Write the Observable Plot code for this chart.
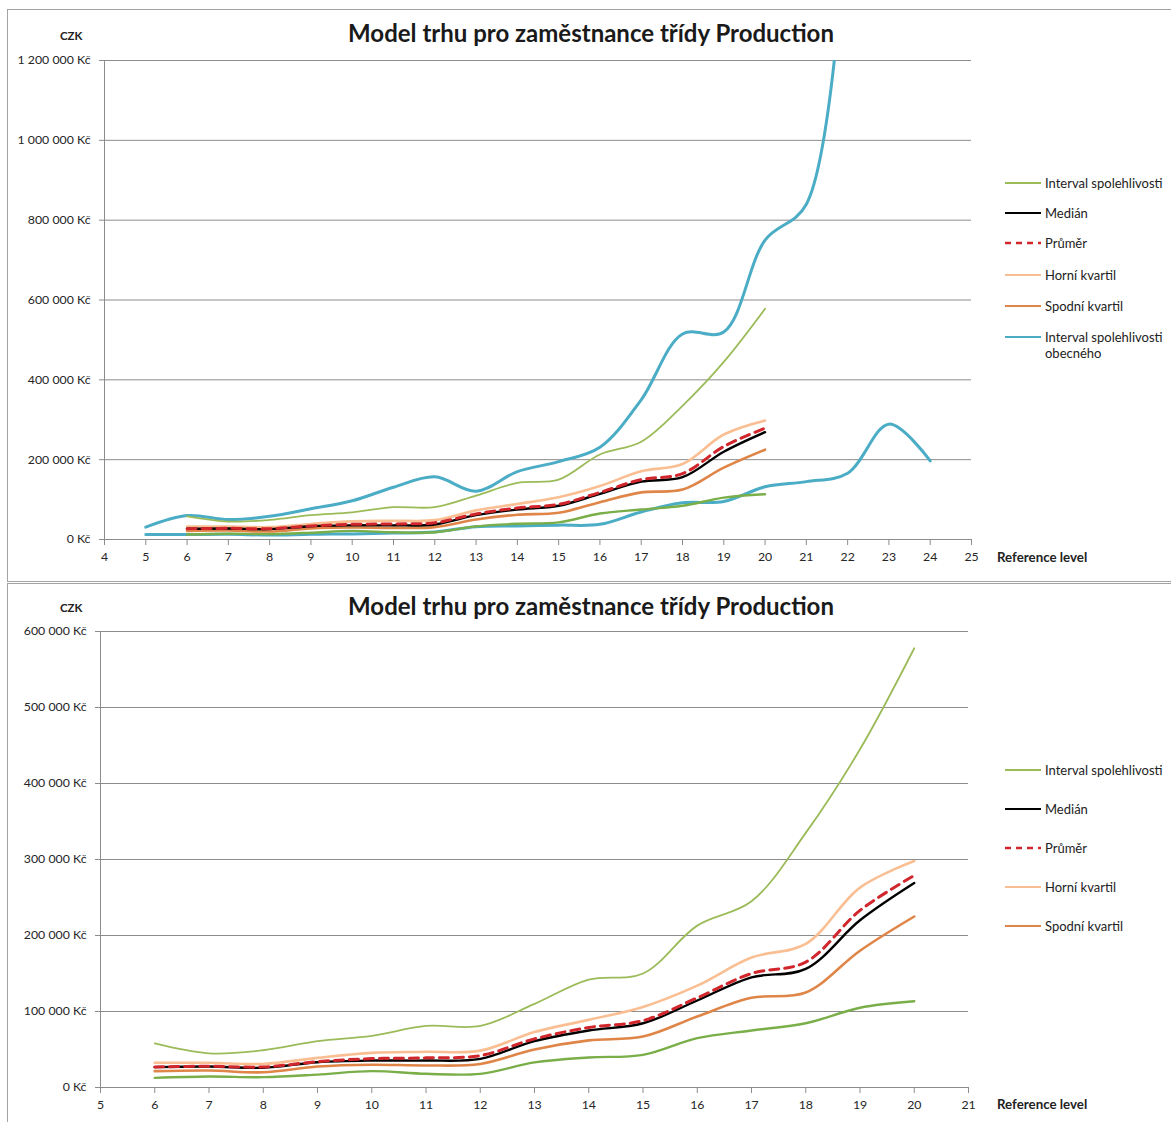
<!DOCTYPE html>
<html>
<head>
<meta charset="utf-8">
<script src="https://cdn.jsdelivr.net/npm/d3@7"></script>
<script src="https://cdn.jsdelivr.net/npm/@observablehq/plot@0.6"></script>
<style>
  html, body { margin: 0; padding: 0; background: #fff; }
  #page { position: relative; width: 1171px; height: 1122px; overflow: hidden; background: #fff;
          font-family: Lato, "Open Sans", sans-serif; color: #222; }
  .frame { position: absolute; border: 1px solid #a3a3a3; box-sizing: border-box; pointer-events: none; z-index: 5; }
  .chart { position: absolute; left: 0; }
  .title { position: absolute; left: 591px; transform: translateX(-50%); font-weight: 700; font-size: 24px;
           white-space: nowrap; color: #1a1a1a; line-height: 26px; }
  .unit { position: absolute; left: 60px; font-weight: 700; font-size: 11.5px; line-height: 13px; color: #222; }
  .xlabel { position: absolute; left: 997px; font-weight: 700; font-size: 13.3px; line-height: 15px; color: #222; white-space: nowrap; }
  .legend { position: absolute; left: 1005px; font-size: 13px; line-height: 16px; color: #222; }
  .legend .item { position: absolute; left: 0; display: flex; align-items: flex-start; white-space: nowrap; }
  .legend svg { flex: none; margin-right: 4px; margin-top: 1px; }
  .chart svg [aria-label*="axis"] line,
  .chart svg [aria-label*="axis"] path { stroke: #8c8c8c; }
</style>
</head>
<body>
<div id="page"></div>
<script>
// Reference levels for the Production class series
const levels = [6, 7, 8, 9, 10, 11, 12, 13, 14, 15, 16, 17, 18, 19, 20];
// Confidence interval (upper bound)
const ciUpper = [58000, 45000, 49000, 61000, 68000, 81000, 81000, 110000, 142000, 150000, 213000, 245000, 335000, 445000, 578000];
// Confidence interval (lower bound)
const ciLower = [12700, 14500, 13600, 17000, 21500, 18000, 18000, 33000, 39500, 43000, 65000, 75000, 84500, 105000, 113500];
const median = [26800, 27600, 26000, 33300, 35500, 35500, 37700, 61000, 75000, 84500, 114500, 145000, 156000, 220000, 269000];
const mean = [27000, 28000, 27000, 34000, 38000, 39000, 42000, 64000, 79000, 88000, 118000, 150000, 165000, 233000, 279000];
const upperQuartile = [32500, 32500, 31000, 39000, 45500, 47000, 48500, 73000, 89000, 106000, 134000, 171000, 189000, 263000, 298000];
const lowerQuartile = [21500, 22400, 20000, 27600, 30000, 29000, 31000, 50000, 62000, 67000, 93400, 118000, 125000, 180000, 225000];

// General confidence interval (all classes)
const generalUpperLevels = [5, 6, 7, 8, 9, 10, 11, 12, 13, 14, 15, 16, 17, 18, 19, 20, 21, 22];
const generalUpper = [31000, 60000, 50000, 58000, 77000, 97000, 131000, 157000, 121000, 170000, 195000, 231000, 350000, 515000, 520000, 750000, 840000, 1600000];
const generalLowerLevels = [5, 6, 7, 8, 9, 10, 11, 12, 13, 14, 15, 16, 17, 18, 19, 20, 21, 22, 23, 24];
const generalLower = [12500, 12500, 13000, 11000, 13000, 14000, 16000, 19000, 32000, 34000, 36000, 38000, 69000, 92000, 95000, 132000, 145000, 166000, 289000, 197000];

const titleText = "Model trhu pro zaměstnance třídy Production";
const unitText = "CZK";
const xAxisText = "Reference level";

const czk = d3.formatLocale({decimal: ",", thousands: "\u00a0", grouping: [3], currency: ["", "\u00a0Kč"]}).format("$,.0f");

const colors = {
  ci: "#9bbb59",
  ciLow: "#7aae48",
  median: "#000000",
  mean: "#d0262c",
  upperQ: "#f9bf93",
  lowerQ: "#df8548",
  general: "#4bacc6"
};

const pts = (xs, ys) => xs.map((x, i) => ({x, y: ys[i]}));

function seriesMarks(withGeneral) {
  const marks = [];
  if (withGeneral) {
    marks.push(Plot.line(pts(generalUpperLevels, generalUpper), {x: "x", y: "y", stroke: colors.general, strokeWidth: 3, curve: "catmull-rom", clip: true}));
    marks.push(Plot.line(pts(generalLowerLevels, generalLower), {x: "x", y: "y", stroke: colors.general, strokeWidth: 3, curve: "catmull-rom", clip: true}));
  }
  marks.push(
    Plot.line(pts(levels, ciUpper), {x: "x", y: "y", stroke: colors.ci, strokeWidth: 1.8, curve: "catmull-rom"}),
    Plot.line(pts(levels, ciLower), {x: "x", y: "y", stroke: colors.ciLow, strokeWidth: 2.4, curve: "catmull-rom"}),
    Plot.line(pts(levels, upperQuartile), {x: "x", y: "y", stroke: colors.upperQ, strokeWidth: 2.6, curve: "catmull-rom"}),
    Plot.line(pts(levels, lowerQuartile), {x: "x", y: "y", stroke: colors.lowerQ, strokeWidth: 2.6, curve: "catmull-rom"}),
    Plot.line(pts(levels, median), {x: "x", y: "y", stroke: colors.median, strokeWidth: 2.4, curve: "catmull-rom"}),
    Plot.line(pts(levels, mean), {x: "x", y: "y", stroke: colors.mean, strokeWidth: 3, strokeDasharray: "9,6", curve: "catmull-rom"})
  );
  return marks;
}

function makeChart({height, marginTop, marginBottom, marginLeft, marginRight, xDomain, yMax, yStep, withGeneral}) {
  const xTicks = d3.range(xDomain[0], xDomain[1] + 1);
  const yTicks = d3.range(0, yMax + 1, yStep);
  return Plot.plot({
    width: 1171,
    height,
    marginTop, marginBottom, marginLeft, marginRight,
    style: {fontFamily: "Lato, 'Open Sans', sans-serif", fontSize: "12.3px", color: "#262626", background: "transparent", overflow: "visible"},
    x: {domain: xDomain, ticks: xTicks, tickFormat: d => String(d), tickSize: 6, tickPadding: 7, label: null},
    y: {domain: [0, yMax], ticks: yTicks, tickFormat: czk, tickSize: 5, tickPadding: 9, label: null},
    marks: [
      Plot.ruleY(yTicks, {stroke: "#8c8c8c", strokeWidth: 1}),
      Plot.ruleX([xDomain[0]], {stroke: "#8c8c8c", strokeWidth: 1}),
      ...seriesMarks(withGeneral)
    ]
  });
}

const legendTop = [
  {label: "Interval spolehlivosti", color: colors.ci, width: 1.8},
  {label: "Medián", color: colors.median, width: 2},
  {label: "Průměr", color: colors.mean, width: 2.4, dash: "6,5"},
  {label: "Horní kvartil", color: colors.upperQ, width: 1.8},
  {label: "Spodní kvartil", color: colors.lowerQ, width: 1.8},
  {label: "Interval spolehlivosti<br>obecného", color: colors.general, width: 1.8}
];
const legendTopY = [183, 213, 243, 275, 306, 337];
const legendBottomY = [770, 809, 848, 887, 926];

function addLegend(page, items, ys) {
  const lg = document.createElement("div");
  lg.className = "legend";
  lg.style.top = "0px";
  items.forEach((it, i) => {
    const row = document.createElement("div");
    row.className = "item";
    row.style.top = (ys[i] - 8) + "px";
    row.innerHTML = `<svg width="36" height="14"><line x1="0" x2="36" y1="7" y2="7" stroke="${it.color}" stroke-width="${it.width}" ${it.dash ? `stroke-dasharray="${it.dash}"` : ""}/></svg><span>${it.label}</span>`;
    lg.appendChild(row);
  });
  page.appendChild(lg);
}

function addText(page, cls, text, top) {
  const el = document.createElement("div");
  el.className = cls;
  el.textContent = text;
  el.style.top = top + "px";
  page.appendChild(el);
}

const page = document.getElementById("page");

// Upper panel: full range including the general interval
const topChart = makeChart({height: 580, marginTop: 60, marginBottom: 41, marginLeft: 104, marginRight: 200,
  xDomain: [4, 25], yMax: 1200000, yStep: 200000, withGeneral: true});
const topWrap = document.createElement("div");
topWrap.className = "chart";
topWrap.style.top = "0px";
topWrap.appendChild(topChart);
page.appendChild(topWrap);

// Lower panel: class-only series at a finer scale
const bottomChart = makeChart({height: 539, marginTop: 48, marginBottom: 35, marginLeft: 100, marginRight: 203,
  xDomain: [5, 21], yMax: 600000, yStep: 100000, withGeneral: false});
const bottomWrap = document.createElement("div");
bottomWrap.className = "chart";
bottomWrap.style.top = "583px";
bottomWrap.appendChild(bottomChart);
page.appendChild(bottomWrap);

addText(page, "title", titleText, 20);
addText(page, "title", titleText, 593);
addText(page, "unit", unitText, 29);
addText(page, "unit", unitText, 601);
addText(page, "xlabel", xAxisText, 550);
addText(page, "xlabel", xAxisText, 1097);
addLegend(page, legendTop, legendTopY);
addLegend(page, legendTop.slice(0, 5), legendBottomY);

const f1 = document.createElement("div");
f1.className = "frame";
Object.assign(f1.style, {left: "7px", top: "9px", width: "1200px", height: "573px"});
page.appendChild(f1);
const f2 = document.createElement("div");
f2.className = "frame";
Object.assign(f2.style, {left: "7px", top: "583px", width: "1200px", height: "600px"});
page.appendChild(f2);
</script>
</body>
</html>
